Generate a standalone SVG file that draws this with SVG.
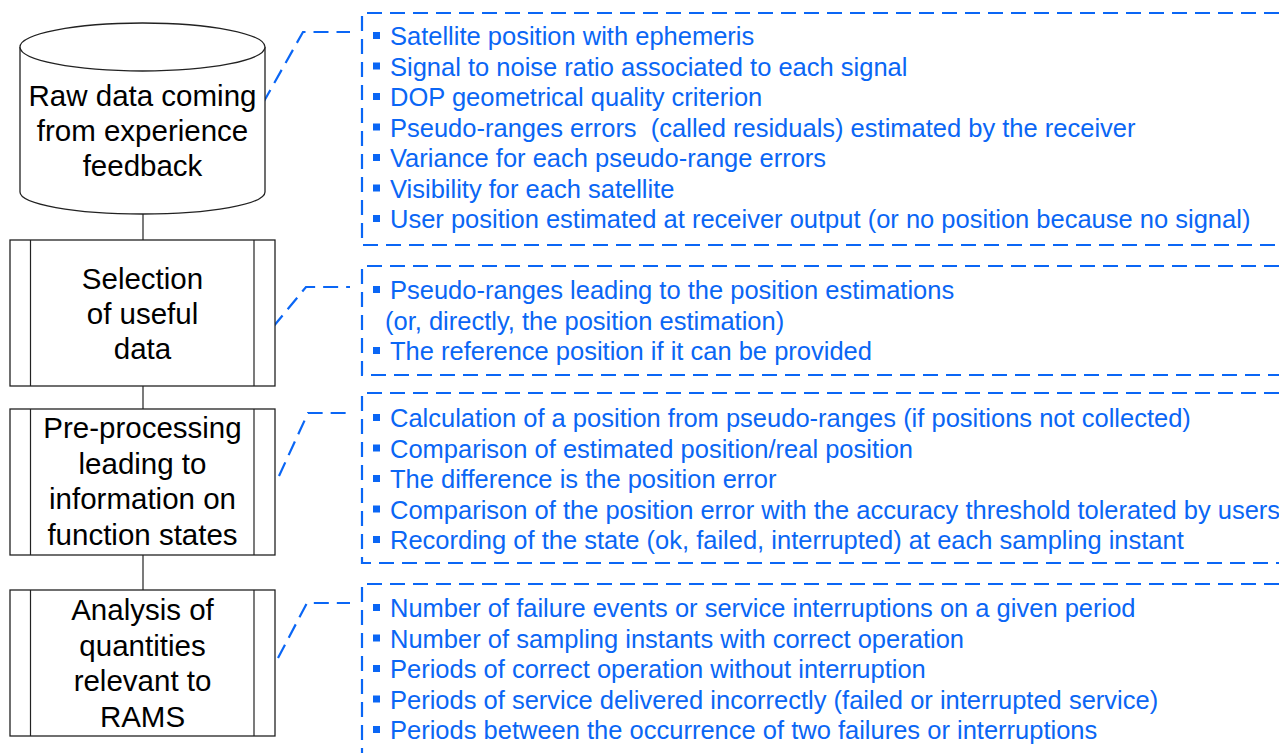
<svg xmlns="http://www.w3.org/2000/svg" width="1279" height="753" viewBox="0 0 1279 753">
<style>
.shape{fill:#fff;stroke:#222;stroke-width:1.3}
.conn{fill:none;stroke:#222;stroke-width:1.2}
.lbl{font-family:"Liberation Sans",Arial,sans-serif;font-size:29.5px;fill:#000;text-anchor:middle}
.dash{fill:none;stroke:#0a66f5;stroke-width:2.2;stroke-dasharray:15 8}
.note{font-family:"Liberation Sans",Arial,sans-serif;font-size:25.5px;fill:#0a66f5}
.bul{fill:#0a66f5}
</style>
<rect width="1279" height="753" fill="#fff"/>
<g id="connectors">
<line class="conn" x1="143" y1="214" x2="143" y2="240"/>
<line class="conn" x1="143" y1="386" x2="143" y2="409"/>
<line class="conn" x1="143" y1="555" x2="143" y2="590"/>
<polyline class="dash" points="263,103 303,32 350,32"/>
<polyline class="dash" points="273,327 306,287 350,287"/>
<polyline class="dash" points="279,476 308,413 350,413"/>
<polyline class="dash" points="278,658 307,603 350,603"/>
</g>
<g id="raw-data">
<path class="shape" d="M20,47 V192 A122.5,22 0 0 0 265,192 V47"/>
<ellipse class="shape" cx="142.5" cy="47" rx="122.5" ry="24"/>
<text class="lbl" x="142.5" y="106">Raw data coming</text>
<text class="lbl" x="142.5" y="141">from experience</text>
<text class="lbl" x="142.5" y="176">feedback</text>
</g>
<g id="selection">
<rect class="shape" x="10" y="240" width="265" height="146"/>
<line class="conn" x1="30.5" y1="240" x2="30.5" y2="386"/>
<line class="conn" x1="254" y1="240" x2="254" y2="386"/>
<text class="lbl" x="142.5" y="289">Selection</text>
<text class="lbl" x="142.5" y="324">of useful</text>
<text class="lbl" x="142.5" y="359">data</text>
</g>
<g id="preprocessing">
<rect class="shape" x="10" y="409" width="265" height="146"/>
<line class="conn" x1="30.5" y1="409" x2="30.5" y2="555"/>
<line class="conn" x1="254" y1="409" x2="254" y2="555"/>
<text class="lbl" x="142.5" y="438">Pre-processing</text>
<text class="lbl" x="142.5" y="474">leading to</text>
<text class="lbl" x="142.5" y="509">information on</text>
<text class="lbl" x="142.5" y="545">function states</text>
</g>
<g id="analysis">
<rect class="shape" x="10" y="590" width="265" height="146"/>
<line class="conn" x1="30.5" y1="590" x2="30.5" y2="736"/>
<line class="conn" x1="254" y1="590" x2="254" y2="736"/>
<text class="lbl" x="142.5" y="620">Analysis of</text>
<text class="lbl" x="142.5" y="656">quantities</text>
<text class="lbl" x="142.5" y="691">relevant to</text>
<text class="lbl" x="142.5" y="727">RAMS</text>
</g>
<g id="note-raw">
<path class="dash" d="M1279,13 H362 V245 H1279"/>
<rect class="bul" x="373" y="32" width="7" height="7"/>
<rect class="bul" x="373" y="62.5" width="7" height="7"/>
<rect class="bul" x="373" y="93" width="7" height="7"/>
<rect class="bul" x="373" y="123.5" width="7" height="7"/>
<rect class="bul" x="373" y="154" width="7" height="7"/>
<rect class="bul" x="373" y="184.5" width="7" height="7"/>
<rect class="bul" x="373" y="215" width="7" height="7"/>
<text class="note" x="390" y="45">Satellite position with ephemeris</text>
<text class="note" x="390" y="75.5">Signal to noise ratio associated to each signal</text>
<text class="note" x="390" y="106">DOP geometrical quality criterion</text>
<text class="note" x="390" y="136.5" xml:space="preserve">Pseudo-ranges errors  (called residuals) estimated by the receiver</text>
<text class="note" x="390" y="167">Variance for each pseudo-range errors</text>
<text class="note" x="390" y="197.5">Visibility for each satellite</text>
<text class="note" x="390" y="228">User position estimated at receiver output (or no position because no signal)</text>
</g>
<g id="note-selection">
<path class="dash" d="M1279,266 H362 V375 H1279"/>
<rect class="bul" x="373" y="286" width="7" height="7"/>
<rect class="bul" x="373" y="347" width="7" height="7"/>
<text class="note" x="390" y="299">Pseudo-ranges leading to the position estimations</text>
<text class="note" x="385" y="330">(or, directly, the position estimation)</text>
<text class="note" x="390" y="360">The reference position if it can be provided</text>
</g>
<g id="note-preprocessing">
<path class="dash" d="M1279,393 H362 V563 H1279"/>
<rect class="bul" x="373" y="414" width="7" height="7"/>
<rect class="bul" x="373" y="444.5" width="7" height="7"/>
<rect class="bul" x="373" y="475" width="7" height="7"/>
<rect class="bul" x="373" y="505.5" width="7" height="7"/>
<rect class="bul" x="373" y="536" width="7" height="7"/>
<text class="note" x="390" y="427">Calculation of a position from pseudo-ranges (if positions not collected)</text>
<text class="note" x="390" y="457.5">Comparison of estimated position/real position</text>
<text class="note" x="390" y="488">The difference is the position error</text>
<text class="note" x="390" y="518.5">Comparison of the position error with the accuracy threshold tolerated by users</text>
<text class="note" x="390" y="549">Recording of the state (ok, failed, interrupted) at each sampling instant</text>
</g>
<g id="note-analysis">
<path class="dash" d="M1279,584 H362 V753"/>
<rect class="bul" x="373" y="604" width="7" height="7"/>
<rect class="bul" x="373" y="634.5" width="7" height="7"/>
<rect class="bul" x="373" y="665" width="7" height="7"/>
<rect class="bul" x="373" y="695.5" width="7" height="7"/>
<rect class="bul" x="373" y="726" width="7" height="7"/>
<text class="note" x="390" y="617">Number of failure events or service interruptions on a given period</text>
<text class="note" x="390" y="647.5">Number of sampling instants with correct operation</text>
<text class="note" x="390" y="678">Periods of correct operation without interruption</text>
<text class="note" x="390" y="708.5">Periods of service delivered incorrectly (failed or interrupted service)</text>
<text class="note" x="390" y="739">Periods between the occurrence of two failures or interruptions</text>
</g>
</svg>
